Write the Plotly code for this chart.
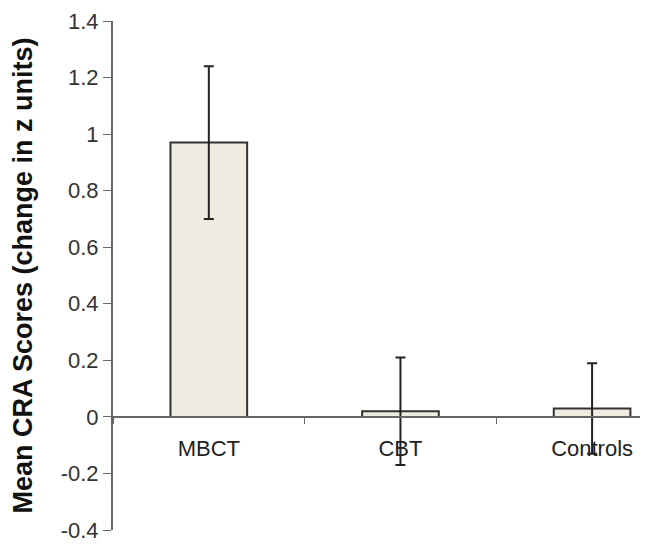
import plotly.graph_objects as go

# group means and error bar half-widths (change in z units)
groups = ["MBCT", "CBT", "Controls"]
means = [0.97, 0.02, 0.03]
errors = [0.27, 0.19, 0.16]

# y ticks, printed with a plain hyphen like the original
y_ticks = [-0.4, -0.2, 0, 0.2, 0.4, 0.6, 0.8, 1, 1.2, 1.4]
y_labels = ["-0.4", "-0.2", "0", "0.2", "0.4", "0.6", "0.8", "1", "1.2", "1.4"]

fig = go.Figure()
fig.add_trace(go.Bar(
    x=groups,
    y=means,
    width=0.4,
    marker=dict(color="#EEEBE0", line=dict(color="#333333", width=2)),
    error_y=dict(type="data", array=errors, visible=True,
                 color="#222222", thickness=2, width=5),
))

# page has an 8px body margin, so the figure is a bit smaller than the window
fig.update_layout(
    width=643, height=540,
    margin=dict(l=105, r=11, t=13, b=18, autoexpand=False),
    plot_bgcolor="white", paper_bgcolor="white",
    font=dict(family="Arial, Liberation Sans, sans-serif", color="#333333", size=21),
    showlegend=False,
)

# x axis sits on the zero line, ticks between categories
fig.update_xaxes(
    range=[-0.5, 2.25],
    anchor="free", position=0.4 / 1.8,
    showline=True, linecolor="#666666", linewidth=2,
    ticks="outside", tickson="boundaries", ticklen=6, tickcolor="#666666",
    showgrid=False, zeroline=False,
    tickfont=dict(size=22, color="#222222"),
    ticklabelstandoff=12,
)
fig.update_yaxes(
    range=[-0.4, 1.4], tickvals=y_ticks, ticktext=y_labels,
    showline=True, linecolor="#666666", linewidth=2,
    ticks="outside", ticklen=8, tickcolor="#666666",
    showgrid=False, zeroline=False,
    tickfont=dict(size=22, color="#333333"),
    title=dict(text="<b>Mean CRA Scores (change in z units)</b>",
               font=dict(size=27, color="#111111"), standoff=20),
    automargin=False,
)

fig.write_html("out.html")
